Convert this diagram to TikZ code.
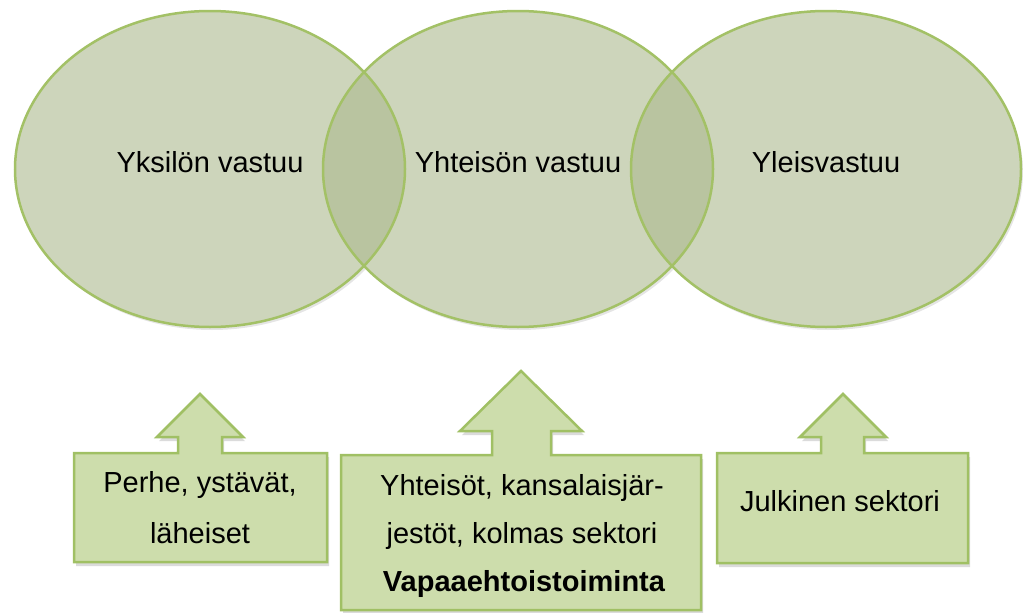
\documentclass[tikz,border=0pt]{standalone}
\usepackage{fontspec}
\setmainfont{Liberation Sans}
\usetikzlibrary{shapes.geometric,shadows}
\definecolor{ellfill}{RGB}{172,185,142}
\definecolor{ellline}{RGB}{163,193,102}
\definecolor{boxfill}{RGB}{205,221,172}
\definecolor{boxline}{RGB}{160,192,100}
\begin{document}
\begin{tikzpicture}[x=1pt,y=-1pt,
  ring/.style={ellipse, minimum width=390pt, minimum height=316pt, inner sep=0pt},
  lbl/.style={anchor=base, font=\fontsize{29}{35}\selectfont, text=black, inner sep=0pt},
  callout/.style={fill=boxfill, draw=boxline, line width=2.5pt, line join=miter,
    drop shadow={opacity=0.28, shadow xshift=2pt, shadow yshift=-4pt}}]
\fill[white] (0,0) rectangle (1023,613);
\useasboundingbox (0,0) rectangle (1023,613);
% soft shadows of the circles
\node[ring, fill=black, fill opacity=0.10] (s1) at (212,172) {};
\node[ring, fill=black, fill opacity=0.10] (s2) at (520,172) {};
\node[ring, fill=black, fill opacity=0.10] (s3) at (828,172) {};
% white base
\node[ring, fill=white] (w1) at (210,169) {};
\node[ring, fill=white] (w2) at (518,169) {};
\node[ring, fill=white] (w3) at (826,169) {};
% translucent fills
\node[ring, fill=ellfill, fill opacity=0.6] (e1) at (210,169) {};
\node[ring, fill=ellfill, fill opacity=0.6] (e2) at (518,169) {};
\node[ring, fill=ellfill, fill opacity=0.6] (e3) at (826,169) {};
% outlines
\node[ring, draw=ellline, line width=2.5pt] (o1) at (e1) {};
\node[ring, draw=ellline, line width=2.5pt] (o2) at (e2) {};
\node[ring, draw=ellline, line width=2.5pt] (o3) at (e3) {};
% circle labels
\node[lbl] (t1) at (210,172) {Yksilön vastuu};
\node[lbl] (t2) at (518,172) {Yhteisön vastuu};
\node[lbl] (t3) at (826,172) {Yleisvastuu};
% callouts
\path[callout] (74,453) -- (178,453) -- (178,437) -- (157,437) -- (200,394) -- (243,437)
  -- (222,437) -- (222,453) -- (327,453) -- (327,562) -- (74,562) -- cycle;
\path[callout] (341,455) -- (492,455) -- (492,431) -- (460,431) -- (521,371) -- (582,431)
  -- (551,431) -- (551,455) -- (701,455) -- (701,610) -- (341,610) -- cycle;
\path[callout] (717,453) -- (821,453) -- (821,437) -- (800,437) -- (843,394) -- (886,437)
  -- (864,437) -- (864,453) -- (968,453) -- (968,563) -- (717,563) -- cycle;
% callout texts
\node[lbl] (p1) at (200,492) {Perhe, ystävät,};
\node[lbl] (p2) at (200,543) {läheiset};
\node[lbl] (q1) at (522,495) {Yhteisöt, kansalaisjär-};
\node[lbl] (q2) at (522,543) {jestöt, kolmas sektori};
\node[lbl, font=\fontsize{29}{35}\selectfont\bfseries] (q3) at (524,591) {Vapaaehtoistoiminta};
\node[lbl] (r1) at (840,511) {Julkinen sektori};
\end{tikzpicture}
\end{document}
